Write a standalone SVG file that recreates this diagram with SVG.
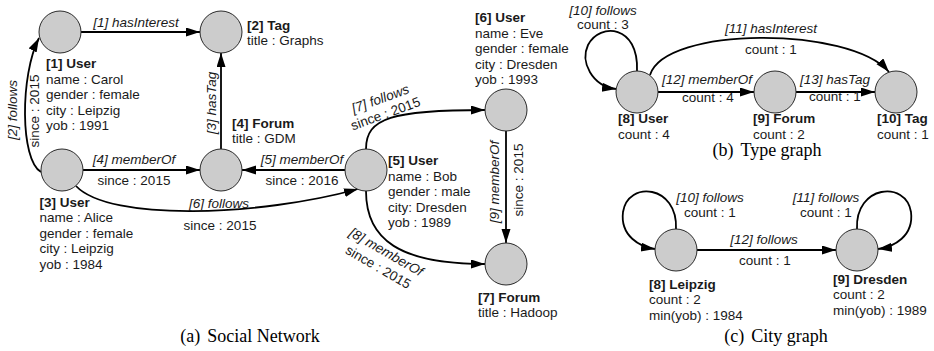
<svg xmlns="http://www.w3.org/2000/svg" width="934" height="351" viewBox="0 0 934 351">
  <style>
    text { font-family: "Liberation Sans", Arial, sans-serif; font-size: 13.5px; fill: #1a1a1a; }
    .b { font-weight: bold; }
    .i { font-style: italic; }
    .m { text-anchor: middle; }
    .node circle { fill: #cccccc; stroke: #2a2a2a; stroke-width: 1; }
    .edge { fill: none; stroke: #000; stroke-width: 1.8; marker-end: url(#arrow); }
    .cap { font-family: "Liberation Serif", "Times New Roman", serif; font-size: 18px; fill: #000; text-anchor: middle; }
  </style>
  <defs>
    <marker id="arrow" markerUnits="userSpaceOnUse" markerWidth="15" markerHeight="10" refX="14" refY="4.5" orient="auto">
      <path d="M0,0 L14,4.5 L0,9 z" fill="#000"/>
    </marker>
  </defs>

  <!-- connectors -->
  <g id="connectors">
    <!-- (a) social network -->
    <path class="edge" d="M81,32 L200,32"/>
    <path class="edge" d="M41,172 C20,160 20,75 39,38"/>
    <path class="edge" d="M221,149 L221,53"/>
    <path class="edge" d="M83,170 L200,170"/>
    <path class="edge" d="M345,170 L242,170"/>
    <path class="edge" d="M76,186 C110,222 260,216 358,189"/>
    <path class="edge" d="M366,149 C366,118 392,110 485,110"/>
    <path class="edge" d="M366,191 C366,240 400,264 485,264"/>
    <path class="edge" d="M506,131 L506,243"/>
    <!-- (b) type graph -->
    <path class="edge" d="M637,71 C639,25 600,22 588,45 C580,62 592,86 616,89"/>
    <path class="edge" d="M650,75 C665,26 850,26 889,72"/>
    <path class="edge" d="M658,92 L754,92"/>
    <path class="edge" d="M796,92 L875,92"/>
    <!-- (c) city graph -->
    <path class="edge" d="M676,229 C678,185 628,180 623,212 C620,236 640,247 655,249"/>
    <path class="edge" d="M857,229 C855,185 906,180 911,212 C914,236 894,247 878,249"/>
    <path class="edge" d="M697,250 L836,250"/>

    <!-- connector labels -->
    <text class="i m" x="136" y="27">[1] hasInterest</text>
    <text class="i m" transform="translate(17,110) rotate(-90)">[2] follows</text>
    <text class="m" transform="translate(39,111) rotate(-90)">since : 2015</text>
    <text class="i m" transform="translate(216,103) rotate(-90)">[3] hasTag</text>
    <text class="i m" x="134" y="164">[4] memberOf</text>
    <text class="m" x="134" y="184.5">since : 2015</text>
    <text class="i m" x="302" y="164">[5] memberOf</text>
    <text class="m" x="302" y="184.5">since : 2016</text>
    <text class="i m" x="219" y="208">[6] follows</text>
    <text class="m" x="220" y="230">since : 2015</text>
    <text class="i m" transform="translate(382,103) rotate(-20)">[7] follows</text>
    <text class="m" transform="translate(387,118) rotate(-20)">since : 2015</text>
    <text class="i m" transform="translate(384,256) rotate(30)">[8] memberOf</text>
    <text class="m" transform="translate(376,271) rotate(30)">since : 2015</text>
    <text class="i m" transform="translate(499,182) rotate(-90)">[9] memberOf</text>
    <text class="m" transform="translate(523,180) rotate(-90)">since : 2015</text>

    <text class="i m" x="603" y="15">[10] follows</text>
    <text class="m" x="603" y="29">count : 3</text>
    <text class="i m" x="771" y="33">[11] hasInterest</text>
    <text class="m" x="771" y="54">count : 1</text>
    <text class="i m" x="707" y="84">[12] memberOf</text>
    <text class="m" x="708" y="102">count : 4</text>
    <text class="i m" x="835" y="84">[13] hasTag</text>
    <text class="m" x="835" y="101">count : 1</text>

    <text class="i m" x="710" y="202">[10] follows</text>
    <text class="m" x="710" y="217">count : 1</text>
    <text class="i m" x="826" y="202">[11] follows</text>
    <text class="m" x="826" y="217">count : 1</text>
    <text class="i m" x="764" y="244">[12] follows</text>
    <text class="m" x="765" y="265">count : 1</text>
  </g>

  <!-- (a) social network nodes -->
  <g id="n1" class="node">
    <circle cx="60" cy="32" r="21"/>
    <text x="46" y="68"><tspan class="b">[1] User</tspan><tspan x="46" dy="15.5">name : Carol</tspan><tspan x="46" dy="15.5">gender : female</tspan><tspan x="46" dy="15.5">city : Leipzig</tspan><tspan x="46" dy="15.5">yob : 1991</tspan></text>
  </g>
  <g id="n2" class="node">
    <circle cx="221" cy="32" r="21"/>
    <text x="247" y="29.5"><tspan class="b">[2] Tag</tspan><tspan x="247" dy="15.5">title : Graphs</tspan></text>
  </g>
  <g id="n3" class="node">
    <circle cx="62" cy="170" r="21"/>
    <text x="39.5" y="206.5"><tspan class="b">[3] User</tspan><tspan x="39.5" dy="15.5">name : Alice</tspan><tspan x="39.5" dy="15.5">gender : female</tspan><tspan x="39.5" dy="15.5">city : Leipzig</tspan><tspan x="39.5" dy="15.5">yob : 1984</tspan></text>
  </g>
  <g id="n4" class="node">
    <circle cx="221" cy="170" r="21"/>
    <text x="232" y="127.5"><tspan class="b">[4] Forum</tspan><tspan x="232" dy="15.5">title : GDM</tspan></text>
  </g>
  <g id="n5" class="node">
    <circle cx="366" cy="170" r="21"/>
    <text x="388" y="165"><tspan class="b">[5] User</tspan><tspan x="388" dy="15.5">name : Bob</tspan><tspan x="388" dy="15.5">gender : male</tspan><tspan x="388" dy="15.5">city: Dresden</tspan><tspan x="388" dy="15.5">yob : 1989</tspan></text>
  </g>
  <g id="n6" class="node">
    <circle cx="506" cy="110" r="21"/>
    <text x="475" y="22"><tspan class="b">[6] User</tspan><tspan x="475" dy="15.5">name : Eve</tspan><tspan x="475" dy="15.5">gender : female</tspan><tspan x="475" dy="15.5">city : Dresden</tspan><tspan x="475" dy="15.5">yob : 1993</tspan></text>
  </g>
  <g id="n7" class="node">
    <circle cx="506" cy="264" r="21"/>
    <text x="478" y="301.5"><tspan class="b">[7] Forum</tspan><tspan x="478" dy="15.5">title : Hadoop</tspan></text>
  </g>

  <!-- (b) type graph nodes -->
  <g id="t8" class="node">
    <circle cx="637" cy="92" r="21"/>
    <text x="618" y="123"><tspan class="b">[8] User</tspan><tspan x="618" dy="15.5">count : 4</tspan></text>
  </g>
  <g id="t9" class="node">
    <circle cx="775" cy="92" r="21"/>
    <text x="753" y="123"><tspan class="b">[9] Forum</tspan><tspan x="753" dy="15.5">count : 2</tspan></text>
  </g>
  <g id="t10" class="node">
    <circle cx="896" cy="92" r="21"/>
    <text x="877" y="123"><tspan class="b">[10] Tag</tspan><tspan x="877" dy="15.5">count : 1</tspan></text>
  </g>

  <!-- (c) city graph nodes -->
  <g id="c8" class="node">
    <circle cx="676" cy="250" r="21"/>
    <text x="649" y="288.5"><tspan class="b">[8] Leipzig</tspan><tspan x="649" dy="15.5">count : 2</tspan><tspan x="649" dy="15.5">min(yob) : 1984</tspan></text>
  </g>
  <g id="c9" class="node">
    <circle cx="857" cy="250" r="21"/>
    <text x="833" y="283.5"><tspan class="b">[9] Dresden</tspan><tspan x="833" dy="15.5">count : 2</tspan><tspan x="833" dy="15.5">min(yob) : 1989</tspan></text>
  </g>

  <!-- sub-figure captions -->
  <text class="cap" x="250" y="342">(a)<tspan dx="7">Social Network</tspan></text>
  <text class="cap" x="767" y="156">(b)<tspan dx="7">Type graph</tspan></text>
  <text class="cap" x="776" y="342">(c)<tspan dx="7">City graph</tspan></text>
</svg>
